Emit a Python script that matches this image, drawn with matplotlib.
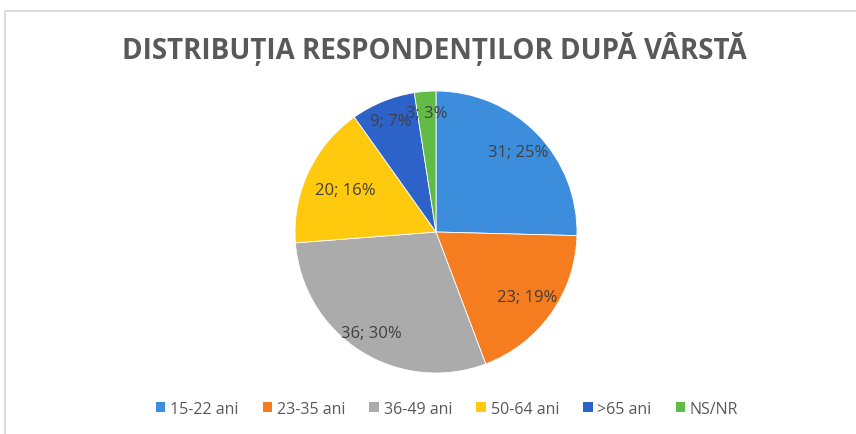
import matplotlib.pyplot as plt
from matplotlib.patches import Rectangle
import numpy as np

categories = ['15-22 ani', '23-35 ani', '36-49 ani', '50-64 ani', '>65 ani', 'NS/NR']
counts = [31, 23, 36, 20, 9, 3]
percents = [25, 19, 30, 16, 7, 3]
colors = ['#3C8EDD', '#F57C1F', '#ABABAB', '#FFC90E', '#2D62C8', '#62BB46']
label_r = [0.81, 0.79, 0.85, 0.71, 0.85, 0.85]

plt.rcParams['font.family'] = ['Open Sans', 'DejaVu Sans']

fig = plt.figure(figsize=(8.56, 4.35), dpi=100)
fig.patch.set_facecolor('white')

# chart frame (only top/left visible)
fig.add_artist(Rectangle((5 / 856, -0.1), 1.2, 1 - 12 / 435 + 0.1,
                         transform=fig.transFigure, fill=False,
                         edgecolor='#D4D4D4', lw=1.2))

ax = fig.add_axes([(436 - 141) / 856, (435 - 233 - 141) / 435, 282 / 856, 282 / 435])
wedges, _ = ax.pie(counts, colors=colors, startangle=90, counterclock=False,
                   radius=1, wedgeprops=dict(edgecolor='#FFFFFF', linewidth=0.6))
ax.set_xlim(-1, 1)
ax.set_ylim(-1, 1)
ax.set_aspect('equal')

for w, c, p, r in zip(wedges, counts, percents, label_r):
    ang = np.deg2rad((w.theta1 + w.theta2) / 2)
    ax.text(r * np.cos(ang), r * np.sin(ang), f'{c}; {p}%',
            ha='center', va='center', fontsize=12, color='#404040')

fig.text(434 / 856, 1 - 49 / 435, 'DISTRIBUȚIA RESPONDENȚILOR DUPĂ VÂRSTĂ',
         ha='center', va='center', fontsize=20, fontweight='bold', color='#595959')

handles = [Rectangle((0, 0), 1, 1, facecolor=c, edgecolor='none') for c in colors]
fig.legend(handles, categories, loc='center', bbox_to_anchor=(447 / 856, 1 - 410 / 435),
           ncol=6, frameon=False, fontsize=11.5, labelcolor='#595959',
           handlelength=0.6, handleheight=0.6, handletextpad=0.3, columnspacing=1.5)

fig.savefig('out.png', dpi=100)
